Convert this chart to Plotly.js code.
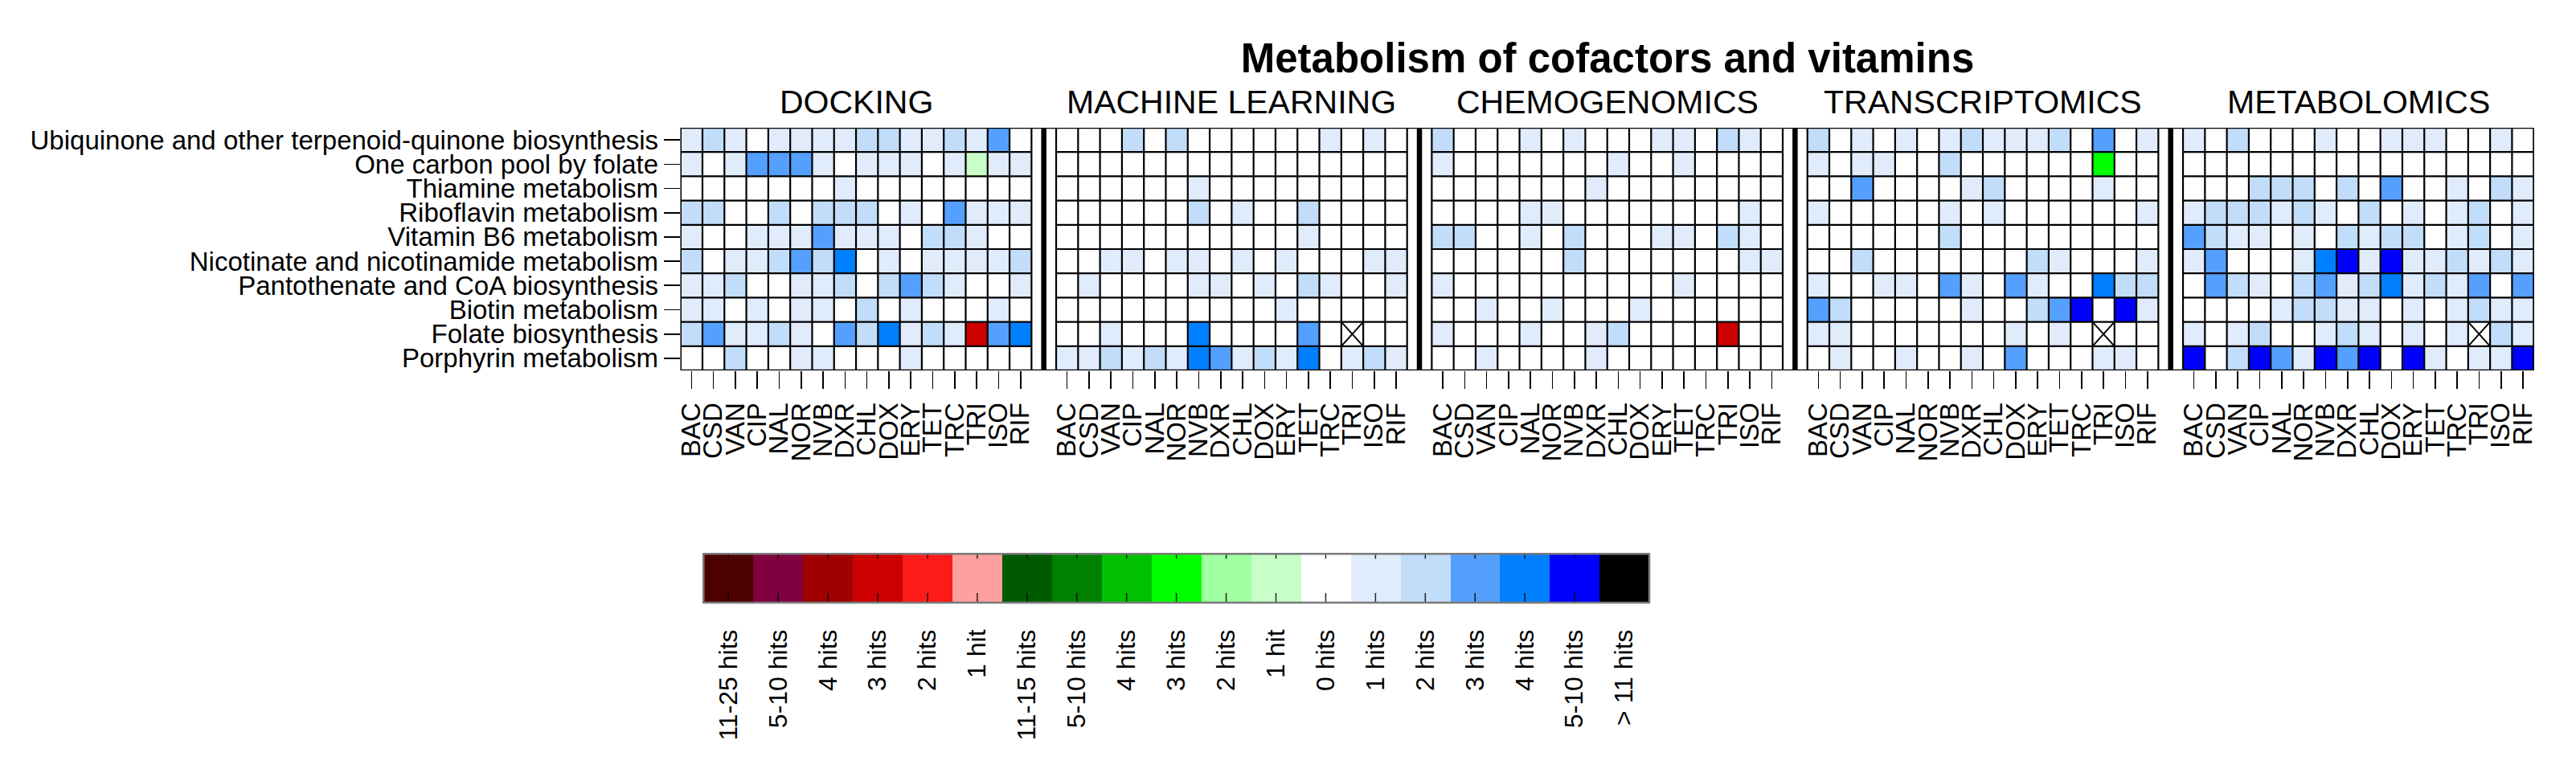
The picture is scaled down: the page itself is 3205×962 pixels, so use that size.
<!DOCTYPE html>
<html>
<head>
<meta charset="utf-8">
<script src="https://cdn.plot.ly/plotly-3.0.1.min.js"></script>
<style>html,body{margin:0;padding:0;background:#fff;}#chart{width:3205px;height:962px;}</style>
</head>
<body>
<div id="chart"></div>
<script>
// ---------- DATA ----------
const pathways = [
  "Ubiquinone and other terpenoid-quinone biosynthesis",
  "One carbon pool by folate",
  "Thiamine metabolism",
  "Riboflavin metabolism",
  "Vitamin B6 metabolism",
  "Nicotinate and nicotinamide metabolism",
  "Pantothenate and CoA biosynthesis",
  "Biotin metabolism",
  "Folate biosynthesis",
  "Porphyrin metabolism"
];
const drugs = ["BAC","CSD","VAN","CIP","NAL","NOR","NVB","DXR","CHL","DOX","ERY","TET","TRC","TRI","ISO","RIF"];
const methods = ["DOCKING","MACHINE LEARNING","CHEMOGENOMICS","TRANSCRIPTOMICS","METABOLOMICS"];

// numbers = blue hit level (0..4, 5 = "5-10 hits"); "Gn" = green level n; "Rn" = red level n; "X" = not available
const docking = [
  [1,2,1,0,1,1,1,1,2,2,1,1,2,1,3,0],
  [1,0,1,3,3,3,1,0,1,1,1,0,1,"G1",1,1],
  [0,0,0,0,0,0,0,1,0,0,0,0,0,0,0,0],
  [2,2,0,0,2,0,2,2,2,0,1,0,3,1,1,1],
  [1,0,0,1,1,1,3,1,1,1,0,2,2,1,0,0],
  [2,0,1,1,2,3,2,4,0,1,0,1,1,1,1,2],
  [1,1,2,0,0,1,1,2,0,2,3,2,1,0,0,1],
  [1,1,0,1,0,1,1,0,2,0,1,0,0,0,1,0],
  [2,3,1,1,2,1,0,3,2,4,1,2,1,"R3",3,4],
  [0,0,2,0,0,1,1,0,0,0,1,0,0,0,0,0]
];
const machineLearning = [
  [0,0,0,2,0,2,0,0,0,0,0,0,1,0,1,0],
  [0,0,0,0,0,0,0,0,0,0,0,0,0,0,0,0],
  [0,0,0,0,0,0,1,0,0,0,0,0,0,0,0,0],
  [0,0,0,0,0,0,2,0,1,0,0,2,0,0,0,0],
  [0,0,0,0,0,0,0,0,0,0,0,1,0,0,0,0],
  [0,0,1,1,0,1,1,0,1,0,1,0,0,0,1,1],
  [0,1,0,0,0,0,1,1,0,1,0,2,1,0,0,1],
  [0,0,0,0,0,0,0,0,0,0,1,0,0,0,0,0],
  [0,0,1,0,0,0,4,0,0,0,0,3,0,"X",0,0],
  [1,1,2,1,2,1,4,3,1,2,1,4,0,1,2,1]
];
const chemogenomics = [
  [2,0,0,0,1,0,1,0,0,0,1,1,0,2,1,0],
  [1,0,0,0,0,0,0,0,1,0,0,1,0,0,0,0],
  [0,0,0,0,0,0,0,1,0,0,0,0,0,0,0,0],
  [0,0,0,0,1,1,0,0,0,0,0,0,0,0,1,0],
  [2,2,0,0,1,0,2,0,0,0,1,1,0,2,1,0],
  [0,0,0,0,0,0,2,0,0,0,0,0,0,0,1,1],
  [1,0,0,0,0,0,0,0,0,0,0,1,0,0,0,0],
  [0,0,1,0,0,1,0,0,0,1,0,0,0,0,0,0],
  [1,0,0,0,1,0,0,1,2,0,0,0,0,"R3",0,0],
  [0,0,1,0,0,0,0,1,0,0,0,0,0,0,0,0]
];
const transcriptomics = [
  [2,0,1,0,1,0,1,2,1,1,1,2,0,3,0,1],
  [1,0,1,1,0,0,2,0,0,0,0,0,0,"G3",0,0],
  [0,0,3,0,0,0,0,1,2,0,0,0,0,1,0,0],
  [1,0,0,0,0,0,1,0,1,0,0,0,0,0,0,1],
  [0,0,0,0,0,0,2,0,0,0,0,0,0,0,0,0],
  [0,0,2,0,0,0,0,0,0,0,2,1,0,0,0,1],
  [1,0,0,1,1,0,3,1,0,3,1,0,0,4,2,2],
  [3,2,0,0,0,0,0,1,0,0,2,3,5,0,5,1],
  [1,1,0,0,0,0,0,0,0,1,0,1,0,"X",0,0],
  [0,1,0,0,1,0,0,1,0,3,0,0,0,1,1,0]
];
const metabolomics = [
  [1,0,2,0,0,0,1,0,0,1,1,1,0,0,1,0],
  [0,0,0,0,0,0,0,0,0,0,0,0,0,0,0,0],
  [0,0,0,2,2,2,0,2,0,3,0,0,1,0,2,1],
  [1,2,2,2,1,2,1,0,2,0,1,0,1,2,0,1],
  [3,2,1,1,0,1,0,2,1,2,2,0,1,2,0,1],
  [1,3,0,0,0,1,4,5,1,5,1,1,2,1,2,1],
  [0,3,2,1,0,2,3,1,2,4,1,2,1,3,0,3],
  [0,0,0,0,1,2,2,1,1,0,1,0,1,2,1,1],
  [1,0,1,2,0,0,1,2,1,0,1,0,1,"X",2,1],
  [5,0,2,5,3,1,5,3,5,0,5,1,0,1,1,5]
];

const legendLabels = ["11-25 hits","5-10 hits","4 hits","3 hits","2 hits","1 hit",
  "11-15 hits","5-10 hits","4 hits","3 hits","2 hits","1 hit",
  "0 hits","1 hits","2 hits","3 hits","4 hits","5-10 hits","> 11 hits"];
const legendColors = ["#4d0000","#800040","#a00000","#cc0000","#ff1a1a","#ffa0a0",
  "#005a00","#008000","#00c000","#00ff00","#a0ffa0","#c8ffc8",
  "#ffffff","#e0ebfb","#c2ddf9","#55a0ff","#0080ff","#0000ff","#000000"];

// ---------- BUILD ----------
const panels = [docking, machineLearning, chemogenomics, transcriptomics, metabolomics];
const nC = drugs.length, nR = pathways.length, nBins = legendLabels.length;
const GAP = 1.124;               // blank space between panels, in cell widths
const STEP = nC + GAP;
const WHITE = legendLabels.indexOf("0 hits");

function binOf(v){
  if (typeof v === 'number') return WHITE + v;
  if (v === 'X') return WHITE;
  const n = +v.slice(1);
  return v[0] === 'G' ? WHITE - n : 6 - n;
}
const cs = [];
legendColors.forEach((c,k)=>{ cs.push([k/nBins, c]); cs.push([(k+1)/nBins, c]); });

const FONT = "Liberation Sans, Arial, Helvetica, sans-serif";
const traces = [], shapes = [], annotations = [];
const tickvals = [], ticktext = [];
const xsX = [], ysX = [];

panels.forEach((m,p)=>{
  const xs = drugs.map((d,i)=>p*STEP + i);
  xs.forEach((x,i)=>{ tickvals.push(x); ticktext.push(drugs[i]); });
  traces.push({type:'heatmap', x: xs, y: pathways.map((r,j)=>j),
    z: m.map(row=>row.map(binOf)), zmin:-0.5, zmax:nBins-0.5,
    colorscale: cs, showscale:false, hoverinfo:'skip', xaxis:'x', yaxis:'y'});
  m.forEach((row,j)=>row.forEach((v,i)=>{
    if (v === 'X'){
      const x = xs[i];
      xsX.push(x-0.5, x+0.5, null, x-0.5, x+0.5, null);
      ysX.push(j-0.5, j+0.5, null, j+0.5, j-0.5, null);
    }
  }));
  const x0 = p*STEP - 0.5, x1 = p*STEP + nC - 0.5;
  for (let i=0;i<=nC;i++) shapes.push({type:'line', xref:'x', yref:'y', x0:x0+i, x1:x0+i, y0:-0.5, y1:nR-0.5, line:{color:'#000', width:2.2}});
  for (let j=0;j<=nR;j++) shapes.push({type:'line', xref:'x', yref:'y', x0:x0, x1:x1, y0:j-0.5, y1:j-0.5, line:{color:'#000', width:2.2}});
  if (p>0){
    const xs0 = p*STEP - 0.5 - GAP/2;
    shapes.push({type:'line', xref:'x', yref:'y', x0:xs0, x1:xs0, y0:-0.5, y1:nR-0.5, line:{color:'#000', width:6.5}});
  }
  annotations.push({xref:'x', yref:'paper', x:p*STEP + (nC-1)/2, y:1-127/962, yanchor:'middle', xanchor:'center',
    text: methods[p], showarrow:false, font:{family:FONT, size:41, color:'#000'}});
});
const xEnd = (panels.length-1)*STEP + nC - 0.5;
shapes.push({type:'rect', xref:'x', yref:'y', x0:-0.5, x1:xEnd, y0:-0.5, y1:nR-0.5, line:{color:'#000', width:2.6}});

traces.push({type:'scatter', mode:'lines', x:xsX, y:ysX, line:{color:'#000', width:2}, hoverinfo:'skip', showlegend:false, xaxis:'x', yaxis:'y'});

// legend bar
traces.push({type:'heatmap', x: legendLabels.map((l,k)=>k), y:[0], z:[legendLabels.map((l,k)=>k)],
  zmin:-0.5, zmax:nBins-0.5, colorscale: cs, showscale:false, hoverinfo:'skip', xaxis:'x2', yaxis:'y2'});
legendLabels.forEach((l,k)=>{
  shapes.push({type:'line', xref:'x2', yref:'y2 domain', ysizemode:'pixel', yanchor:0, x0:k, x1:k, y0:0, y1:12, line:{color:'rgba(0,0,0,0.85)', width:1.5}});
  shapes.push({type:'line', xref:'x2', yref:'y2 domain', ysizemode:'pixel', yanchor:1, x0:k, x1:k, y0:-6, y1:0, line:{color:'rgba(0,0,0,0.85)', width:1.5}});
});
shapes.push({type:'rect', xref:'x2 domain', yref:'y2 domain', x0:0, x1:1, y0:0, y1:1, line:{color:'#7a7a7a', width:2.5}});

const W = 3205, H = 962;
const layout = {
  width: W, height: H, margin:{l:0,r:0,t:0,b:0}, paper_bgcolor:'#fff', plot_bgcolor:'#fff',
  font:{family:FONT, color:'#000'},
  showlegend:false,
  title:{text:"Metabolism of cofactors and vitamins", x:2000/W, xanchor:'center', xref:'paper',
    y:1-72/H, yanchor:'middle', yref:'paper', font:{family:FONT, size:51, weight:'bold', color:'#000'}},
  xaxis:{domain:[846.7/W, 3152.7/W], range:[-0.5, xEnd], tickmode:'array', tickvals:tickvals, ticktext:ticktext,
    tickangle:-90, ticks:'outside', ticklen:22, tickwidth:1.6, tickcolor:'#000', showgrid:false, zeroline:false, showline:false,
    ticklabelstandoff:4,
    tickfont:{family:FONT, size:33, color:'#000'}, fixedrange:true},
  yaxis:{domain:[1-461/H, 1-159/H], range:[nR-0.5, -0.5], tickmode:'array', tickvals:pathways.map((r,j)=>j), ticktext:pathways,
    ticks:'outside', ticklen:20, tickwidth:1.6, tickcolor:'#000', showgrid:false, zeroline:false, showline:false,
    tickfont:{family:FONT, size:33, color:'#000'}, fixedrange:true},
  xaxis2:{domain:[875.3/W, 2052/W], range:[-0.5, nBins-0.5], anchor:'y2', tickmode:'array',
    tickvals: legendLabels.map((l,k)=>k), ticktext: legendLabels, tickangle:-90, ticks:'', ticklabelstandoff:26,
    showgrid:false, zeroline:false, showline:false, tickfont:{family:FONT, size:32, color:'#000'}, fixedrange:true},
  yaxis2:{domain:[1-750/H, 1-689.3/H], range:[-0.5,0.5], anchor:'x2', visible:false, fixedrange:true},
  shapes: shapes, annotations: annotations
};
Plotly.newPlot('chart', traces, layout, {staticPlot:true, displayModeBar:false});
</script>
</body>
</html>
